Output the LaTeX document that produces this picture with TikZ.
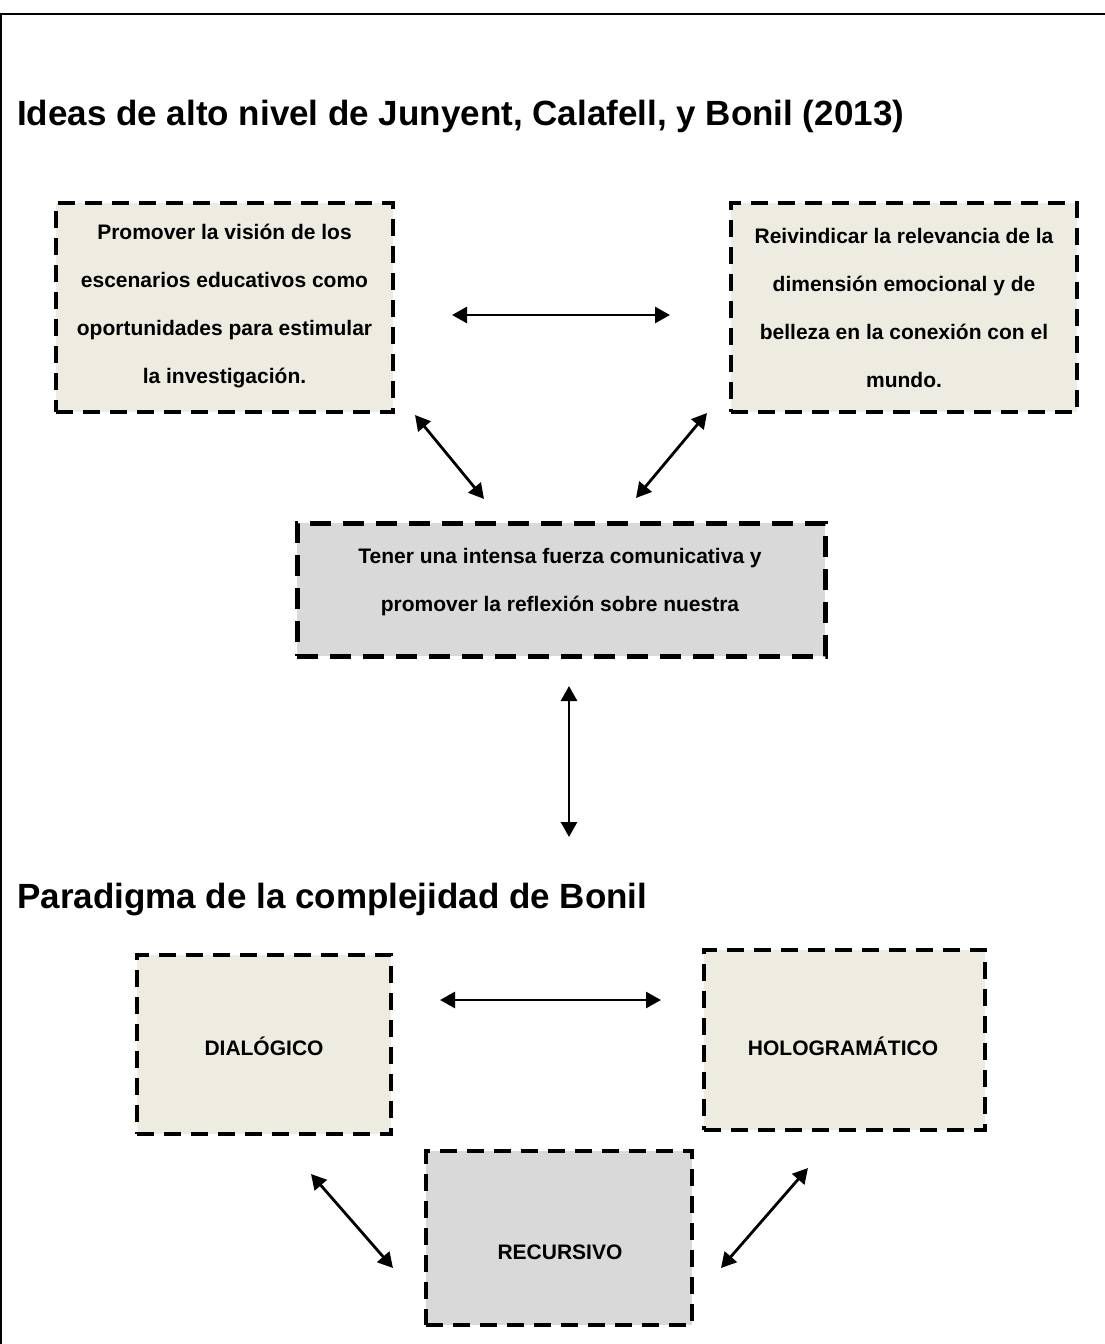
\documentclass[tikz,border=0pt]{standalone}
\usepackage{fontspec}
\setmainfont{Liberation Sans}
\usetikzlibrary{arrows.meta}
\definecolor{beige}{HTML}{EEECE1}
\definecolor{greybox}{HTML}{D9D9D9}
\tikzset{
  box/.style={draw=black, line width=4pt, dash pattern=on 17pt off 10pt, inner sep=0pt, anchor=center},
  beigebox/.style={box, fill=beige},
  greyb/.style={box, fill=greybox},
  lbl/.style={font=\bfseries\fontsize{21}{48}\selectfont, align=center, inner sep=0pt, anchor=center},
  ttl/.style={font=\bfseries\fontsize{35}{40}\selectfont, anchor=base west, inner sep=0pt},
  dbl/.style={line width=2.8pt, {Triangle[length=15pt,width=16pt]}-{Triangle[length=15pt,width=16pt]}}
}
\begin{document}
\begin{tikzpicture}[x=1pt,y=-1pt]
\useasboundingbox (0,0) rectangle (1105,1344);
\fill[white] (0,0) rectangle (1105,1344);
\draw[line width=2pt] (1,1344) -- (1,14.3) -- (1105,14.3);

\node[ttl] (t1) at (17,125) {Ideas de alto nivel de Junyent, Calafell, y Bonil (2013)};
\node[ttl] (t2) at (17,908) {Paradigma de la complejidad de Bonil};

\node[beigebox, minimum width=337pt, minimum height=209pt] (b1) at (224.5,307.5) {};
\node[lbl] (l1) at (224.5,306) {Promover la visión de los\\escenarios educativos como\\oportunidades para estimular\\la investigación.};

\node[beigebox, minimum width=346pt, minimum height=209pt] (b2) at (904,307.5) {};
\node[lbl] (l2) at (904,308) {Reivindicar la relevancia de la\\dimensión emocional y de\\belleza en la conexión con el\\mundo.};

\node[greyb, line width=5pt, dash pattern=on 21pt off 12pt, minimum width=528pt, minimum height=133pt] (b3) at (561,589.5) {};
\node[lbl] (l3) at (560,582) {Tener una intensa fuerza comunicativa y\\promover la reflexión sobre nuestra};

\node[beigebox, minimum width=254pt, minimum height=179pt] (b4) at (264,1044.5) {};
\node[lbl] (l4) at (264,1046) {DIALÓGICO};

\node[beigebox, minimum width=281pt, minimum height=180pt] (b5) at (844.5,1040) {};
\node[lbl] (l5) at (843,1046) {HOLOGRAMÁTICO};

\node[greyb, minimum width=266pt, minimum height=174pt] (b6) at (559,1238) {};
\node[lbl] (l6) at (560,1252) {RECURSIVO};

\coordinate (a1s) at (452,315);
\coordinate (a1e) at (670,315);
\coordinate (a2s) at (415,415);
\coordinate (a2e) at (484,499);
\coordinate (a3s) at (707,413);
\coordinate (a3e) at (636,498);
\coordinate (a4s) at (569,686);
\coordinate (a4e) at (569,837);
\coordinate (a5s) at (440,1000);
\coordinate (a5e) at (661,1000);
\coordinate (a6s) at (311,1174);
\coordinate (a6e) at (393,1268);
\coordinate (a7s) at (808,1168);
\coordinate (a7e) at (721,1268);

\draw[dbl] (a1s) -- (a1e);
\draw[dbl] (a2s) -- (a2e);
\draw[dbl] (a3s) -- (a3e);
\draw[dbl] (a4s) -- (a4e);
\draw[dbl] (a5s) -- (a5e);
\draw[dbl] (a6s) -- (a6e);
\draw[dbl] (a7s) -- (a7e);
\end{tikzpicture}
\end{document}
